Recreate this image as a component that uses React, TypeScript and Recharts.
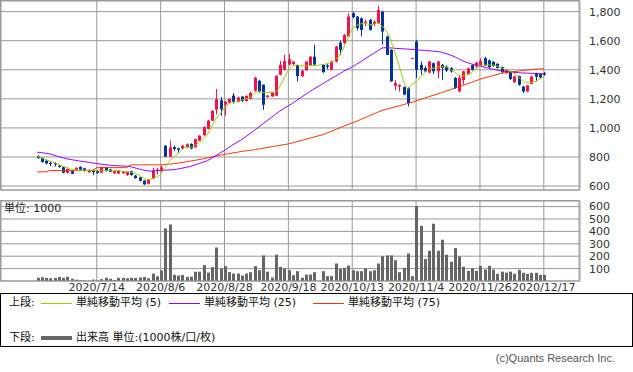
import React from "react"
import { ComposedChart, Bar, Line, XAxis, YAxis, CartesianGrid } from "recharts"

// trading days shown on the chart
const dates = [
  "2020/6/24", "2020/6/25", "2020/6/26", "2020/6/29", "2020/6/30", "2020/7/1", "2020/7/2", "2020/7/3", "2020/7/6", "2020/7/7",
  "2020/7/8", "2020/7/9", "2020/7/10", "2020/7/13", "2020/7/14", "2020/7/15", "2020/7/16", "2020/7/17", "2020/7/20", "2020/7/21",
  "2020/7/22", "2020/7/27", "2020/7/28", "2020/7/29", "2020/7/30", "2020/7/31", "2020/8/3", "2020/8/4", "2020/8/5", "2020/8/6",
  "2020/8/7", "2020/8/11", "2020/8/12", "2020/8/13", "2020/8/14", "2020/8/17", "2020/8/18", "2020/8/19", "2020/8/20", "2020/8/21",
  "2020/8/24", "2020/8/25", "2020/8/26", "2020/8/27", "2020/8/28", "2020/8/31", "2020/9/1", "2020/9/2", "2020/9/3", "2020/9/4",
  "2020/9/7", "2020/9/8", "2020/9/9", "2020/9/10", "2020/9/11", "2020/9/14", "2020/9/15", "2020/9/16", "2020/9/17", "2020/9/18",
  "2020/9/23", "2020/9/24", "2020/9/25", "2020/9/28", "2020/9/29", "2020/9/30", "2020/10/1", "2020/10/2", "2020/10/5", "2020/10/6",
  "2020/10/7", "2020/10/8", "2020/10/9", "2020/10/12", "2020/10/13", "2020/10/14", "2020/10/15", "2020/10/16", "2020/10/19", "2020/10/20",
  "2020/10/21", "2020/10/22", "2020/10/23", "2020/10/26", "2020/10/27", "2020/10/28", "2020/10/29", "2020/10/30", "2020/11/2", "2020/11/4",
  "2020/11/5", "2020/11/6", "2020/11/9", "2020/11/10", "2020/11/11", "2020/11/12", "2020/11/13", "2020/11/16", "2020/11/17", "2020/11/18",
  "2020/11/19", "2020/11/20", "2020/11/24", "2020/11/25", "2020/11/26", "2020/11/27", "2020/11/30", "2020/12/1", "2020/12/2", "2020/12/3",
  "2020/12/4", "2020/12/7", "2020/12/8", "2020/12/9", "2020/12/10", "2020/12/11", "2020/12/14", "2020/12/15", "2020/12/16", "2020/12/17",
]

const opens = [
  807, 794, 775, 760, 757, 740, 730, 692, 702, 712,
  732, 722, 695, 710, 706, 692, 730, 714, 688, 686,
  688, 676, 702, 672, 660, 638, 616, 652, 704, 708,
  878, 802, 868, 860, 858, 868, 890, 867, 913, 950,
  993, 1050, 1126, 1190, 1160, 1175, 1222, 1180, 1215, 1185,
  1200, 1256, 1324, 1297, 1212, 1217, 1222, 1366, 1400, 1436,
  1440, 1432, 1356, 1396, 1430, 1490, null, 1434, 1430, 1400,
  1457, 1587, 1583, 1629, 1789, 1766, 1754, 1720, 1743, 1715,
  1720, 1800, 1629, 1537, 1290, 1285, 1281, 1274, 1480, 1594,
  1434, 1412, 1381, 1445, 1389, 1434, 1422, 1411, 1343, 1251,
  1328, 1370, 1432, 1423, 1428, 1480, 1465, 1455, 1441, 1418,
  1378, 1389, 1315, 1355, 1284, 1251, 1303, 1377, 1371, 1375,
]
const highs = [
  812, 797, 778, 768, 764, 744, 733, 721, 706, 730,
  736, 726, 714, 714, 709, 733, 734, 718, 707, 710,
  703, 702, 705, 676, 664, 640, 648, 726, 726, 740,
  882, 913, 878, 864, 882, 893, 895, 926, 950, 1010,
  1055, 1122, 1268, 1212, 1185, 1205, 1240, 1215, 1220, 1225,
  1250, 1352, 1331, 1300, 1226, 1248, 1362, 1462, 1503, 1510,
  1462, 1436, 1398, 1460, 1495, 1572, null, 1440, 1445, 1462,
  1565, 1600, 1645, 1789, 1800, 1770, 1760, 1745, 1750, 1740,
  1839, 1805, 1635, 1540, 1331, 1300, 1285, 1278, 1483, 1606,
  1457, 1425, 1462, 1450, 1462, 1440, 1430, 1420, 1350, 1365,
  1392, 1415, 1436, 1455, 1480, 1490, 1470, 1460, 1445, 1422,
  1405, 1392, 1358, 1360, 1288, 1295, 1358, 1380, 1375, 1385,
]
const lows = [
  790, 762, 750, 738, 735, 726, 688, 688, 682, 706,
  710, 700, 690, 676, 684, 690, 700, 694, 684, 682,
  684, 670, 672, 650, 632, 608, 612, 648, 680, 700,
  800, 798, 840, 828, 854, 864, 852, 864, 910, 946,
  990, 1046, 1092, 1084, 1085, 1170, 1168, 1175, 1178, 1180,
  1195, 1250, 1245, 1125, 1208, 1212, 1218, 1362, 1396, 1430,
  1432, 1320, 1350, 1392, 1425, 1430, null, 1378, 1405, 1395,
  1450, 1500, 1578, 1625, 1755, 1670, 1629, 1700, 1670, 1700,
  1715, 1572, 1500, 1318, 1258, 1250, 1225, 1148, 1477, 1343,
  1366, 1383, 1375, 1370, 1340, 1331, 1385, 1380, 1268, 1245,
  1300, 1365, 1396, 1415, 1424, 1425, 1412, 1420, 1408, 1378,
  1372, 1330, 1310, 1290, 1240, 1248, 1300, 1320, 1343, 1360,
]
const closes = [
  792, 765, 755, 752, 748, 732, 692, 718, 685, 725,
  714, 705, 712, 695, 690, 730, 705, 698, 703, 705,
  700, 698, 676, 655, 636, 612, 645, 708, 714, 728,
  802, 866, 855, 850, 878, 888, 858, 923, 947, 1006,
  1050, 1118, 1198, 1128, 1180, 1200, 1180, 1210, 1185, 1220,
  1240, 1345, 1251, 1160, 1222, 1244, 1358, 1434, 1460, 1472,
  1456, 1356, 1393, 1456, 1490, 1436, null, 1384, 1420, 1457,
  1560, 1537, 1640, 1766, 1761, 1686, 1674, 1731, 1674, 1730,
  1812, 1663, 1503, 1320, 1308, 1295, 1229, 1171, 1480, 1400,
  1400, 1389, 1457, 1389, 1457, 1412, 1395, 1389, 1274, 1345,
  1389, 1410, 1400, 1450, 1460, 1430, 1418, 1425, 1412, 1383,
  1400, 1337, 1354, 1297, 1251, 1292, 1354, 1352, 1347, 1366,
]

// volume, unit 1000
const volumes = [
  26, 30, 25, 22, 24, 32, 26, 34, 18, 10,
  6, 4, 3, 12, 5, 15, 26, 18, 8, 25,
  25, 22, 25, 24, 28, 32, 22, 60, 38, 85,
  424, 456, 50, 44, 48, 33, 35, 75, 75, 128,
  68, 112, 270, 100, 120, 72, 60, 60, 44, 60,
  71, 120, 87, 206, 75, 28, 212, 114, 101, 87,
  47, 79, 26, 52, 52, 71, 0, 79, 39, 39,
  141, 98, 106, 125, 87, 79, 79, 104, 79, 87,
  141, 200, 206, 206, 168, 71, 106, 222, 39, 604,
  445, 178, 244, 462, 244, 333, 212, 155, 266, 198,
  115, 82, 103, 82, 122, 92, 122, 92, 58, 75,
  68, 75, 58, 90, 66, 58, 66, 66, 49, 49,
]

const ma5 = [
  806, 795, 782, 772, 762, 750, 736, 728, 715, 710,
  707, 709, 708, 710, 703, 706, 706, 704, 705, 708,
  702, 701, 696, 687, 673, 655, 645, 651, 663, 681,
  725, 770, 800, 822, 850, 867, 866, 879, 899, 924,
  957, 1009, 1064, 1100, 1135, 1165, 1177, 1180, 1191, 1199,
  1207, 1240, 1248, 1243, 1244, 1244, 1247, 1284, 1344, 1394,
  1430, 1432, 1427, 1427, 1430, 1426, 1432, 1436, 1440, 1450,
  1470, 1500, 1550, 1620, 1680, 1705, 1715, 1722, 1710, 1712,
  1724, 1700, 1668, 1606, 1521, 1430, 1331, 1268, 1300, 1318,
  1350, 1375, 1410, 1410, 1420, 1421, 1420, 1405, 1385, 1363,
  1358, 1365, 1380, 1405, 1425, 1432, 1434, 1432, 1425, 1414,
  1405, 1391, 1374, 1350, 1326, 1310, 1312, 1320, 1335, 1355,
]
const ma25 = [
  833, 830, 826, 821, 812, 803, 795, 787, 782, 777,
  772, 768, 764, 759, 755, 751, 747, 744, 742, 740,
  738, 737, 733, 725, 717, 710, 704, 703, 705, 707,
  709, 711, 712, 717, 723, 729, 735, 745, 755, 765,
  775, 792, 810, 828, 845, 865, 885, 902, 920, 940,
  960, 982, 1005, 1028, 1050, 1072, 1095, 1115, 1135, 1152,
  1170, 1190, 1210, 1230, 1250, 1268, 1285, 1302, 1320, 1338,
  1355, 1372, 1390, 1405, 1420, 1438, 1455, 1475, 1495, 1512,
  1530, 1550, 1552, 1550, 1548, 1546, 1544, 1542, 1540, 1537,
  1535, 1533, 1531, 1528, 1525, 1520, 1512, 1502, 1490, 1475,
  1460, 1450, 1440, 1432, 1425, 1418, 1411, 1404, 1398, 1392,
  1389, 1386, 1383, 1380, 1378, 1377, 1376, 1375, 1373, 1372,
]
const ma75 = [
  698, 698, 698, 707, 707, 707, 707, 707, 707, 707,
  707, 707, 707, 707, 727, 727, 727, 727, 727, 727,
  727, 727, 746, 746, 746, 746, 746, 746, 746, 746,
  748, 751, 754, 758, 762, 767, 772, 777, 782, 788,
  794, 800, 806, 812, 818, 823, 828, 833, 838, 842,
  846, 850, 855, 860, 865, 870, 875, 880, 885, 890,
  897, 905, 913, 921, 929, 937, 945, 953, 964, 975,
  988, 1000, 1012, 1024, 1034, 1046, 1058, 1070, 1083, 1096,
  1108, 1120, 1128, 1136, 1144, 1152, 1160, 1168, 1176, 1185,
  1195, 1205, 1215, 1224, 1233, 1243, 1253, 1263, 1273, 1283,
  1293, 1303, 1313, 1324, 1335, 1343, 1351, 1359, 1367, 1375,
  1379, 1383, 1387, 1391, 1395, 1398, 1401, 1404, 1406, 1408,
]

const tickDates = ["2020/7/14", "2020/8/6", "2020/8/28", "2020/9/18", "2020/10/13", "2020/11/4", "2020/11/26", "2020/12/17"]
const priceTicks = [600, 800, 1000, 1200, 1400, 1600, 1800]
const volumeTicks = [100, 200, 300, 400, 500, 600]

const UP = "#f5124a"
const DOWN = "#003399"
const GRID = "#999"
const FONT = "'DejaVu Sans', 'Noto Sans CJK JP', sans-serif"
const PAD = 8

// empty slots on both sides, like the original
const rows = [
  ...Array.from({ length: PAD }, (_, k) => ({ date: `pad-a${k}` })),
  ...dates.map((date, i) => ({
    date,
    open: opens[i],
    high: highs[i],
    low: lows[i],
    close: closes[i],
    range: highs[i] == null ? null : [lows[i], highs[i]],
    volume: volumes[i],
    ma5: ma5[i],
    ma25: ma25[i],
    ma75: ma75[i],
  })),
  ...Array.from({ length: PAD }, (_, k) => ({ date: `pad-b${k}` })),
]

function Candle(props: any) {
  const { x, y, width, height, payload } = props
  if (!payload || payload.open == null || height == null || isNaN(y)) return <g />
  const { open, close, high, low } = payload
  const top = Math.min(y, y + height)
  const h = Math.abs(height)
  const ppu = h / (high - low || 1)
  const yOf = (v: number) => top + (high - v) * ppu
  const color = close >= open ? UP : DOWN
  const cx = Math.round(x + width / 2)
  const bTop = yOf(Math.max(open, close))
  const bBot = yOf(Math.min(open, close))
  return (
    <g>
      <rect x={cx} y={top} width={1} height={Math.max(1, h)} fill={color} />
      <rect x={cx - 1} y={bTop} width={3} height={Math.max(1, bBot - bTop)} fill={color} />
    </g>
  )
}

function VolumeBar(props: any) {
  const { x, y, width, height } = props
  if (!height || isNaN(y)) return <g />
  const cx = Math.round(x + width / 2)
  return <rect x={cx - 1} y={y} width={3} height={height} fill="#666" />
}

const tickStyle = { fontSize: 11, fill: "#333", fontFamily: FONT }

function LegendLine({ color, width = 1 }: { color: string; width?: number }) {
  return <span style={{ display: "inline-block", width: 31, height: width, background: color, verticalAlign: "middle", margin: "0 4px 0 0" }} />
}

export default function App() {
  return (
    <div style={{ position: "absolute", left: 0, top: 0, width: 633, height: 372, background: "#fff", fontFamily: FONT, overflow: "hidden" }}>
      {/* price panel; extra bottom margin keeps the 600 label inside the svg */}
      <div style={{ position: "absolute", left: 0, top: 0 }}>
        <ComposedChart width={633} height={201} data={rows} margin={{ top: 1, right: 0, bottom: 11, left: 1 }}>
          <CartesianGrid stroke={GRID} />
          <XAxis dataKey="date" ticks={tickDates} interval={0} hide />
          <YAxis
            orientation="right"
            width={53}
            domain={[573, 1873]}
            ticks={priceTicks}
            interval={0}
            allowDataOverflow
            axisLine={false}
            tickLine={false}
            tickMargin={3}
            tick={tickStyle}
            tickFormatter={(v: number) => v.toLocaleString("en-US")}
          />
          <Bar dataKey="range" barSize={3} shape={(p: any) => <Candle {...p} />} isAnimationActive={false} />
          <Line dataKey="ma75" stroke="#ff3300" strokeWidth={1} dot={false} activeDot={false} isAnimationActive={false} />
          <Line dataKey="ma25" stroke="#9900ff" strokeWidth={1} dot={false} activeDot={false} isAnimationActive={false} />
          <Line dataKey="ma5" type="monotone" stroke="#99cc00" strokeWidth={1} dot={false} activeDot={false} isAnimationActive={false} />
        </ComposedChart>
      </div>

      {/* volume panel */}
      <div style={{ position: "absolute", left: 0, top: 200 }}>
        <ComposedChart width={633} height={95} data={rows} margin={{ top: 1, right: 0, bottom: 0, left: 1 }}>
          <CartesianGrid stroke={GRID} />
          <XAxis
            dataKey="date"
            ticks={tickDates}
            interval={0}
            height={14}
            axisLine={false}
            tickLine={false}
            tickSize={0}
            tickMargin={2}
            tick={tickStyle}
          />
          <YAxis
            orientation="right"
            width={53}
            domain={[0, 645]}
            ticks={volumeTicks}
            interval={0}
            allowDataOverflow
            axisLine={false}
            tickLine={false}
            tickMargin={3}
            tick={tickStyle}
          />
          <Bar dataKey="volume" barSize={3} shape={(p: any) => <VolumeBar {...p} />} isAnimationActive={false} />
        </ComposedChart>
      </div>

      {/* panel borders */}
      <svg width={633} height={300} style={{ position: "absolute", left: 0, top: 0, pointerEvents: "none" }}>
        <rect x={0.5} y={0.5} width={578.5} height={189.5} fill="none" stroke={GRID} />
        <rect x={0.5} y={200.5} width={578.5} height={80.5} fill="none" stroke={GRID} />
      </svg>

      <div style={{ position: "absolute", left: 4, top: 203, fontSize: 11, lineHeight: "12px", color: "#222" }}>単位: 1000</div>

      {/* legend */}
      <div style={{ position: "absolute", left: 0, top: 293, width: 631, height: 52, border: "1px solid #000", fontSize: 11, color: "#111" }}>
        <div style={{ position: "absolute", left: 8, top: 2, lineHeight: "14px", whiteSpace: "nowrap" }}>
          <span style={{ display: "inline-block", width: 32 }}>上段:</span>
          <LegendLine color="#99cc00" />
          <span style={{ display: "inline-block", width: 93 }}>単純移動平均 (5)</span>
          <LegendLine color="#9900ff" />
          <span style={{ display: "inline-block", width: 109 }}>単純移動平均 (25)</span>
          <LegendLine color="#ff3300" />
          <span>単純移動平均 (75)</span>
        </div>
        <div style={{ position: "absolute", left: 8, top: 37, lineHeight: "14px", whiteSpace: "nowrap" }}>
          <span style={{ display: "inline-block", width: 32 }}>下段:</span>
          <LegendLine color="#666" width={4} />
          <span>出来高 単位:(1000株/口/枚)</span>
        </div>
      </div>

      <div style={{ position: "absolute", right: 18, top: 351, fontSize: 11, lineHeight: "14px", color: "#555", fontFamily: "'Liberation Sans', sans-serif" }}>
        (c)Quants Research Inc.
      </div>
    </div>
  )
}
